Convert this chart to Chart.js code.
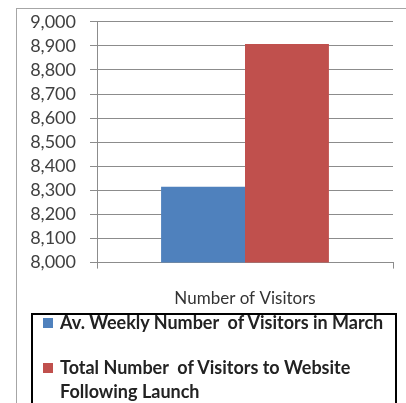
<!DOCTYPE html>
<html>
<head>
<meta charset="utf-8">
<script src="https://cdn.jsdelivr.net/npm/chart.js@4"></script>
<style>
  body { margin: 0; background: #fff; width: 406px; height: 403px; overflow: hidden; position: relative; font-family: Lato, 'Noto Sans', sans-serif; }
  #frame { position: absolute; left: 16px; top: 8px; width: 400px; height: 410px; border: 1px solid #a6a6a6; box-sizing: border-box; }
  #wrap { position: absolute; left: 16px; top: -3px; width: 390px; height: 338px; }
  #legend { position: absolute; left: 31px; top: 313px; width: 366px; height: 100px; border: 2px solid #000; box-sizing: border-box; background: #fff; }
  .item { position: absolute; left: 27px; font-size: 18px; font-weight: bold; color: #222; line-height: 24px; white-space: pre-wrap; }
  .box { position: absolute; left: -17px; top: 8px; width: 10px; height: 10px; }
</style>
</head>
<body>
<div id="frame"></div>
<div id="wrap"><canvas id="visitors" width="390" height="338"></canvas></div>
<div id="legend"></div>
<script>
const categories = ['Number of Visitors'];

const seriesNames = [
  'Av. Weekly Number  of Visitors in March',
  'Total Number  of Visitors to Website Following Launch'
];

const marchWeekly = [8315];
const afterLaunch = [8908];

const yTicks = [8000, 8100, 8200, 8300, 8400, 8500, 8600, 8700, 8800, 8900, 9000];

const colors = ['#4f81bd', '#c0504d'];

const datasets = [
  { label: seriesNames[0], data: marchWeekly, backgroundColor: colors[0] },
  { label: seriesNames[1], data: afterLaunch, backgroundColor: colors[1] }
].map((d) => ({ ...d, categoryPercentage: 0.567, barPercentage: 1 }));

const myChart = new Chart(document.getElementById('visitors'), {
  type: 'bar',
  data: { labels: categories, datasets: datasets },
  options: {
    responsive: false,
    animation: false,
    layout: { padding: { top: 3, right: 13, bottom: 6, left: 0 } },
    plugins: { legend: { display: false }, tooltip: { enabled: false } },
    scales: {
      x: {
        grid: { drawOnChartArea: false, drawTicks: true, tickLength: 6, color: '#8c8c8c' },
        border: { color: '#8c8c8c' },
        ticks: { color: '#333', padding: 20, font: { family: 'Lato', size: 17 } }
      },
      y: {
        min: yTicks[0],
        max: yTicks[yTicks.length - 1],
        afterBuildTicks: (scale) => {
          scale.ticks = yTicks.map((v) => ({ value: v }));
        },
        afterFit: (scale) => {
          scale.width = 81;
        },
        grid: { color: '#8c8c8c', tickLength: 7 },
        border: { color: '#8c8c8c' },
        ticks: {
          autoSkip: false,
          color: '#404040',
          padding: 14,
          font: { family: 'Lato', size: 18 },
          callback: (v) => Number(v).toLocaleString('en-US')
        }
      }
    }
  }
});

// legend in a black box under the chart
const legendEl = document.getElementById('legend');
const tops = [-5, 40];
myChart.data.datasets.forEach((ds, i) => {
  const item = document.createElement('div');
  item.className = 'item';
  item.style.top = tops[i] + 'px';
  item.style.width = i === 0 ? '340px' : '300px';
  item.innerHTML = '<span class="box" style="background:' + ds.backgroundColor + '"></span>' + ds.label;
  legendEl.appendChild(item);
});
</script>
</body>
</html>
